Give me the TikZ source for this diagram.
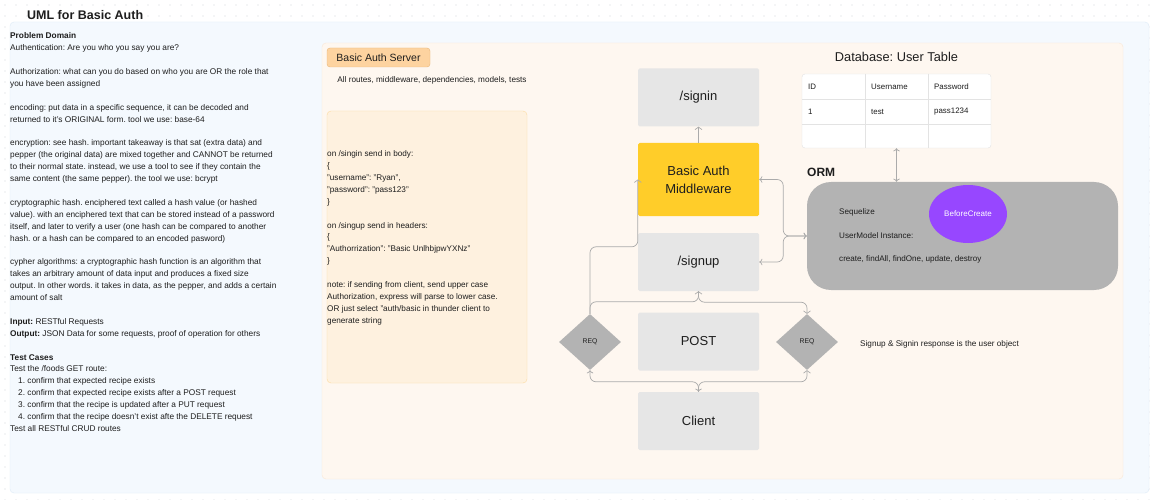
\documentclass[tikz,border=0pt]{standalone}
\usepackage{fontspec}
\setmainfont{Liberation Sans}
\usetikzlibrary{arrows.meta, shapes.geometric}
\frenchspacing

\definecolor{ink}{HTML}{1E1E1E}
\definecolor{dotgray}{HTML}{D2D6DA}
\definecolor{panelblue}{HTML}{F4F9FE}
\definecolor{panelline}{HTML}{DDEBF7}
\definecolor{serverfill}{HTML}{FEF7F0}
\definecolor{serverline}{HTML}{FBE8D5}
\definecolor{tagfill}{HTML}{FDD3A0}
\definecolor{tagline}{HTML}{E8B77A}
\definecolor{notefill}{HTML}{FEF1DF}
\definecolor{noteline}{HTML}{FDDCA0}
\definecolor{boxgray}{HTML}{E6E6E6}
\definecolor{mwyellow}{HTML}{FFCD29}
\definecolor{ormgray}{HTML}{B3B3B3}
\definecolor{linegray}{HTML}{ABABAB}
\definecolor{tableline}{HTML}{E3E3E3}
\definecolor{hookpurple}{HTML}{9747FF}

\tikzset{
  routebox/.style={fill=boxgray, minimum width=121pt, minimum height=58pt, inner sep=0pt, rounded corners=1.5pt, text=ink, font=\fontsize{13}{16}\selectfont, align=center},
  reqbox/.style={diamond, fill=ormgray, minimum width=62pt, minimum height=56pt, inner sep=0pt, text=ink, font=\fontsize{6.8}{8}\selectfont},
  conn/.style={draw=linegray, line width=0.7pt, rounded corners=6pt, -{Straight Barb[length=2.5pt, width=7pt]}},
  smalltext/.style={text=ink, inner sep=0pt, font=\fontsize{8.2}{11.9}\selectfont},
  cell/.style={text=ink, inner sep=0pt, anchor=west, font=\fontsize{7.9}{9}\selectfont},
}

\begin{document}
\begin{tikzpicture}[x=1pt, y=-1pt]

    \useasboundingbox (0,0) rectangle (1152,500);
    \fill[white] (0,0) rectangle (1152,500);

    % Dot grid
    \foreach \gx in {5,16,...,1152}
        \foreach \gy in {5,16,...,500}
            \fill[dotgray] (\gx,\gy) circle (0.6);

    % Title
    \node[anchor=west, inner sep=0pt, text=ink, font=\fontsize{12.5}{15}\selectfont\bfseries] (title) at (27,15) {UML for Basic Auth};

    % Panels
    \draw[panelline, fill=panelblue, rounded corners=4pt] (10,22) rectangle (1149,493);
    \draw[serverline, fill=serverfill, rounded corners=4pt] (322,43) rectangle (1123,479);
    \draw[noteline, fill=notefill, rounded corners=4pt] (327,111) rectangle (527,383);

    % Problem domain
    \node[smalltext, font=\fontsize{8.3}{11.9}\selectfont, anchor=north west, align=left] (domain) at (10,32.5) {%
        \textbf{Problem Domain}\\
        Authentication: Are you who you say you are?\\[11.9pt]
        Authorization: what can you do based on who you are OR the role that\\
        you have been assigned\\[11.9pt]
        encoding: put data in a specific sequence, it can be decoded and\\
        returned to it's ORIGINAL form. tool we use: base-64\\[11.9pt]
        encryption: see hash. important takeaway is that sat (extra data) and\\
        pepper (the original data) are mixed together and CANNOT be returned\\
        to their normal state. instead, we use a tool to see if they contain the\\
        same content (the same pepper). the tool we use: bcrypt\\[11.9pt]
        cryptographic hash. enciphered text called a hash value (or hashed\\
        value). with an enciphered text that can be stored instead of a password\\
        itself, and later to verify a user (one hash can be compared to another\\
        hash. or a hash can be compared to an encoded pasword)\\[11.9pt]
        cypher algorithms: a cryptographic hash function is an algorithm that\\
        takes an arbitrary amount of data input and produces a fixed size\\
        output. In other words. it takes in data, as the pepper, and adds a certain\\
        amount of salt\\[11.9pt]
        \textbf{Input:} RESTful Requests\\
        \textbf{Output:} JSON Data for some requests, proof of operation for others\\[11.9pt]
        \textbf{Test Cases}\\
        Test the /foods GET route:\\
        \hspace*{8pt}1. confirm that expected recipe exists\\
        \hspace*{8pt}2. confirm that expected recipe exists after a POST request\\
        \hspace*{8pt}3. confirm that the recipe is updated after a PUT request\\
        \hspace*{8pt}4. confirm that the recipe doesn't exist afte the DELETE request\\
        Test all RESTful CRUD routes};

    % Server
    \node[draw=tagline, fill=tagfill, rounded corners=3pt, minimum width=103pt, minimum height=19pt, inner sep=0pt, text=ink, font=\fontsize{10.5}{12}\selectfont] (server) at (378.5,57.5) {Basic Auth Server};
    \node[smalltext] (scope) at (432,80) {All routes, middleware, dependencies, models, tests};

    \node[smalltext, anchor=north west, align=left] (note) at (327,150.5) {%
        on /singin send in body:\\
        \{\\
        "username": "Ryan",\\
        "password": "pass123"\\
        \}\\[11.9pt]
        on /singup send in headers:\\
        \{\\
        "Authorrization": "Basic UnlhbjpwYXNz"\\
        \}\\[11.9pt]
        note: if sending from client, send upper case\\
        Authorization, express will parse to lower case.\\
        OR just select "auth/basic in thunder client to\\
        generate string};

    % Routes
    \node[routebox] (signin) at (698.5,97.5) {/signin};
    \node[routebox, fill=mwyellow, minimum height=73pt] (mw) at (698.5,179.5) {Basic Auth\\[2pt]Middleware};
    \node[routebox] (signup) at (698.5,262) {/signup};
    \node[routebox] (post) at (698.5,341.5) {POST};
    \node[routebox] (client) at (698.5,421) {Client};

    \node[reqbox] (reqL) at (590,342) {REQ};
    \node[reqbox] (reqR) at (807,342) {REQ};

    \node[smalltext, anchor=west] (response) at (860,344) {Signup \& Signin response is the user object};

    % Database
    \node[text=ink, inner sep=0pt, font=\fontsize{12.8}{15}\selectfont] (dbtitle) at (896.5,57) {Database: User Table};
    \node[draw=tableline, fill=white, rounded corners=3pt, minimum width=189pt, minimum height=74pt, inner sep=0pt] (tbl) at (896.5,111) {};
    \draw[tableline] (865,74) -- (865,148) (928,74) -- (928,148)
        (802,99) -- (991,99) (802,124) -- (991,124);
    \node[cell] (hid) at (808,86.5) {ID};
    \node[cell] (huser) at (871,86.5) {Username};
    \node[cell] (hpass) at (934,86.5) {Password};
    \node[cell] (vid) at (808,111.5) {1};
    \node[cell] (vuser) at (871,111.5) {test};
    \node[cell] (vpass) at (934,111.5) {pass1234};

    % ORM
    \node[anchor=west, inner sep=0pt, text=ink, font=\fontsize{12}{14}\selectfont\bfseries] (ormtitle) at (807,172) {ORM};
    \node[fill=ormgray, rounded corners=24pt, minimum width=311pt, minimum height=108pt, inner sep=0pt] (orm) at (962.5,236) {};
    \node[cell, font=\fontsize{8.1}{9}\selectfont] (sequelize) at (839,212) {Sequelize};
    \node[cell, font=\fontsize{8.1}{9}\selectfont] (instance) at (839,236) {UserModel Instance:};
    \node[cell, font=\fontsize{8.1}{9}\selectfont] (methods) at (839,259) {create, findAll, findOne, update, destroy};
    \node[ellipse, fill=hookpurple, minimum width=78pt, minimum height=58pt, inner sep=0pt, text=white, font=\fontsize{8}{9}\selectfont] (hook) at (968,214) {BeforeCreate};

    % Connectors
    \draw[conn] (mw.north) -- (signin.south);
    \draw[conn] (reqL.north) -- ++(0,-67) -| (mw.west);
    \draw[conn] (reqL.north) -- ++(0,-12) -| (signup.south);
    \draw[conn] (signup.south) -- ++(0,11) -| (reqR.north);
    \draw[conn, <->] (mw.east) -- ++(24,0) |- (orm.west);
    \draw[conn, <->] (signup.east) -- ++(24,0) |- (orm.west);
    \draw[conn, <->] (tbl.south) -- (tbl.south |- orm.north);
    \draw[conn, <->] (client.north) -- ++(0,-10) -| (reqL.south);
    \draw[conn] (client.north) -- ++(0,-10) -| (reqR.south);

\end{tikzpicture}
\end{document}
